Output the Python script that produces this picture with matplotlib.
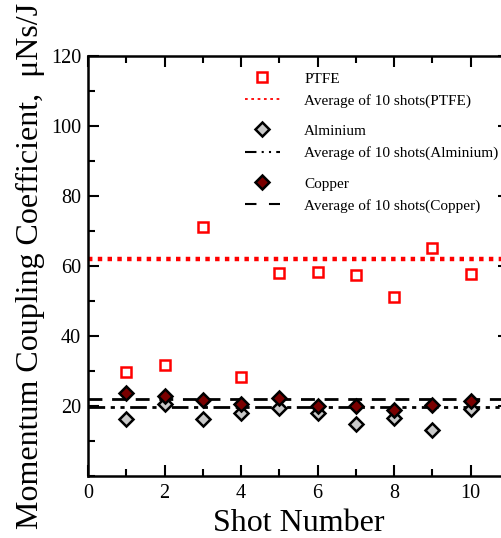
import numpy as np
import matplotlib
matplotlib.use('Agg')
import matplotlib.pyplot as plt
from matplotlib.ticker import MultipleLocator
from matplotlib.lines import Line2D

plt.rcParams['font.family'] = ['Liberation Serif', 'DejaVu Serif']

shots = np.arange(1, 11)
ptfe = [29.8, 31.7, 71.2, 28.4, 57.9, 58.2, 57.3, 51.2, 65.2, 57.7]
alminium = [16.2, 20.6, 16.2, 17.9, 19.3, 17.9, 14.8, 16.7, 13.1, 19.1]
copper = [23.6, 22.9, 21.7, 20.6, 22.4, 20.1, 20.1, 19.0, 20.3, 21.4]
avg_ptfe = 62.0
avg_alminium = 19.6
avg_copper = 21.9

fig = plt.figure(figsize=(5.02, 5.38), dpi=100)
ax = fig.add_axes([88/502, 62/538, 421/502, 420/538])

dot = (0, (1, 1.2))
dashdot = (0, (6, 2, 1.5, 2, 1.5, 2))
dash = (0, (5, 3.5))

xs = [0, 11]
ax.plot(xs, [avg_ptfe]*2, color='red', ls=dot, lw=3.2)
ax.plot(xs, [avg_alminium]*2, color='black', ls=dashdot, lw=2)
ax.plot(xs, [avg_copper]*2, color='black', ls=dash, lw=2)

m_p, = ax.plot(shots, ptfe, ls='none', marker='s', ms=7.5, mfc='white', mec='red', mew=1.8)
m_a, = ax.plot(shots, alminium, ls='none', marker='D', ms=7, mfc='#c8c8c8', mec='black', mew=1.8)
m_c, = ax.plot(shots, copper, ls='none', marker='D', ms=7, mfc='#7a0000', mec='black', mew=1.8)

# thinner lines for the legend keys
h_ap = Line2D([], [], color='red', ls=(0, (1.5, 2)), lw=1.3)
h_aa = Line2D([], [], color='black', ls=(0, (5.5, 2.5, 1, 2.5, 1, 2.5)), lw=1.5)
h_ac = Line2D([], [], color='black', ls=(0, (5.5, 6)), lw=1.5)

ax.set_xlim(0, 11)
ax.set_ylim(0, 120)
ax.xaxis.set_major_locator(MultipleLocator(2))
ax.xaxis.set_minor_locator(MultipleLocator(1))
ax.yaxis.set_major_locator(MultipleLocator(20))
ax.yaxis.set_minor_locator(MultipleLocator(10))
ax.tick_params(which='both', direction='in', top=True, right=True, width=1.5, labelsize=14.5)
ax.tick_params(which='major', length=8)
ax.tick_params(which='minor', length=5)
ax.tick_params(axis='x', pad=6)
ax.tick_params(axis='y', pad=5)
ax.set_yticks([20, 40, 60, 80, 100, 120])
for s in ax.spines.values():
    s.set_linewidth(1.8)

ax.set_xlabel('Shot Number', fontsize=23, labelpad=4)
ax.set_ylabel('Momentum Coupling Coefficient,  \u03bcNs/J', fontsize=23, labelpad=4)

kw = dict(frameon=False, fontsize=11, handlelength=2.3, handletextpad=1.6,
          labelspacing=0.55, loc='upper left', borderaxespad=0, borderpad=0)
leg1 = ax.legend([m_p, h_ap], ['PTFE', 'Average of 10 shots(PTFE)'],
                 bbox_to_anchor=(0.372, 0.962), **kw)
ax.add_artist(leg1)
leg2 = ax.legend([m_a, h_aa], ['Alminium', 'Average of 10 shots(Alminium)'],
                 bbox_to_anchor=(0.372, 0.838), **kw)
ax.add_artist(leg2)
leg3 = ax.legend([m_c, h_ac], ['Copper', 'Average of 10 shots(Copper)'],
                 bbox_to_anchor=(0.372, 0.712), **kw)

fig.savefig('out.png', dpi=100)
